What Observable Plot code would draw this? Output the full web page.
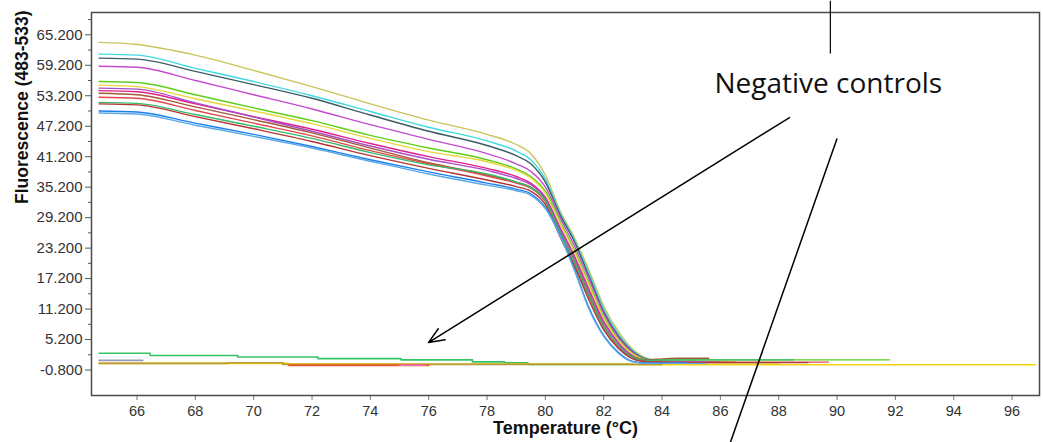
<!DOCTYPE html>
<html><head><meta charset="utf-8">
<script src="https://cdn.jsdelivr.net/npm/d3@7"></script>
<script src="https://cdn.jsdelivr.net/npm/@observablehq/plot@0.6"></script>
<style>html,body{margin:0;padding:0;background:#fff;} #chart svg{display:block;}</style>
</head><body><div id="chart"></div>
<script>
// Temperatures (°C) at which the melt curves are sampled
const temps = [64.7, 66, 68, 70, 72, 74, 76, 78, 79, 79.5, 80, 80.5, 81, 81.5, 82, 82.5, 83, 83.5, 84];

// Positive samples (fluorescence 483-533)
const sampleNames  = ["S1","S2","S3","S4","S5","S6","S7","S8","S9","S10","S11","S12","S13","S14"];
const sampleColors = ["#c9c45a","#3fd9e3","#3d5c66","#c44ad0","#5ccf1a","#e6d83a","#e0208c","#a84ccc","#a35a36","#e04a4a","#36ba6c","#b53434","#1c7ff0","#5aa9e2"];
const s1  = [63.7,63.3,61.2,58.2,55.0,51.6,48.4,45.6,43.6,41.8,37.6,30.6,25.2,18.8,11.8,6.8,3.3,1.5,1.0];
const s2  = [61.4,61.2,58.6,56.0,53.2,50.1,47.0,44.3,42.3,40.6,36.8,30.2,24.8,18.2,11.2,6.3,3.0,1.4,1.1];
const s3  = [60.6,60.4,58.0,55.4,52.7,49.4,46.2,43.4,41.4,39.8,36.2,29.8,24.4,17.6,10.7,5.9,2.8,1.3,1.0];
const s4  = [59.0,58.8,56.2,53.4,50.6,47.5,44.6,41.8,39.8,38.3,35.2,29.2,23.6,17.0,10.3,5.6,2.6,1.2,0.9];
const s5  = [56.0,55.8,53.4,50.8,48.3,45.4,42.9,40.6,38.8,37.3,34.4,28.5,22.8,16.2,9.7,5.2,2.4,1.2,1.2];
const s6  = [55.3,55.0,52.6,50.2,47.7,44.8,42.2,40.2,38.5,37.0,34.0,28.1,22.4,15.8,9.4,5.0,2.3,1.1,0.8];
const s7  = [54.2,54.0,51.6,49.1,46.6,43.8,41.2,38.9,37.3,36.0,33.2,27.3,21.6,15.0,8.8,4.6,2.0,1.0,0.7];
const s8  = [54.7,54.5,51.8,49.0,46.2,43.3,40.7,38.5,36.9,35.7,33.0,27.0,21.2,14.6,8.5,4.4,1.9,0.9,0.8];
const s9  = [53.7,53.4,51.0,48.5,45.9,42.9,40.0,37.6,36.2,35.2,32.6,26.5,20.6,14.0,8.0,4.0,1.8,1.2,1.4];
const s10 = [52.9,52.7,50.3,47.8,45.3,42.4,39.8,37.4,36.0,35.0,32.4,26.1,20.2,13.5,7.6,3.8,1.6,0.9,0.8];
const s11 = [51.9,51.7,49.5,47.2,44.8,42.0,39.6,37.8,36.2,35.1,32.6,26.3,20.4,13.7,7.7,3.9,1.7,1.1,1.2];
const s12 = [51.6,51.4,49.1,46.7,44.2,41.4,38.9,36.6,35.3,34.4,31.8,25.5,19.6,12.9,7.1,3.5,1.4,0.8,0.7];
const s13 = [50.2,50.0,47.8,45.6,43.2,40.6,38.2,36.0,34.8,33.9,31.2,25.9,19.0,11.4,6.0,2.7,0.9,0.6,0.6];
const s14 = [49.8,49.6,47.4,45.2,42.9,40.3,37.8,35.6,34.5,33.6,31.0,25.7,18.8,11.1,5.8,2.5,0.8,0.5,0.5];
const sampleValues = [s1,s2,s3,s4,s5,s6,s7,s8,s9,s10,s11,s12,s13,s14];
// Flat tail after the melt: level and last temperature
const tailLevels = [0.9,1.0,0.9,0.8,1.2,0.4,0.7,0.8,1.5,0.75,1.2,0.65,0.6,0.5];
const tailEnds   = [86.5,85.2,84.6,85.5,91.8,88.0,85.0,86.0,85.6,89.7,88.5,89.0,84.8,85.5];

// Negative controls (stepped traces): [temperature, fluorescence]
const negGreen  = [[64.7,2.5],[66.45,2.05],[69.45,1.75],[72.2,1.45],[75.05,1.2],[77.5,0.8],[78.6,0.6],[79.4,0.3],[83.0,0.3]];
const negGray   = [[64.7,1.1],[66.2,1.1]];
const negYellow = [[64.7,0.5],[71.2,0.35],[83.0,0.22],[96.8,0.22]];
const negKhaki  = [[64.7,0.5],[69.1,0.62],[71.0,0.3],[84.0,0.3]];
const negOrange = [[71.2,0.12],[76.0,0.12]];
const negPink   = [[75.0,0.14],[75.9,0.14]];
const negNames  = ["N1","N2","N3","N4","N5","N6"];
const negColors = ["#34c464","#9a98b8","#f2d40a","#b89a3c","#f05424","#f070b0"];
const negSeries = [negGreen,negGray,negYellow,negKhaki,negOrange,negPink];

// Axis ticks
const xTicks = [66,68,70,72,74,76,78,80,82,84,86,88,90,92,94,96];
const yTicks = [-0.8,5.2,11.2,17.2,23.2,29.2,35.2,41.2,47.2,53.2,59.2,65.2];
const yMinor = [2.2,8.2,14.2,20.2,26.2,32.2,38.2,44.2,50.2,56.2,62.2,68.2];

// Annotation (data units)
const noteText = "Negative controls";
const notePos = [[89.7,55.5]];
const noteTick = [[89.77,71.9,89.77,61.5]];
const noteArrow = [[88.37,48.9,75.99,4.6]];
const noteLine = [[90.0,44.8,86.34,-15.1]];

// Build tables
const posRows = [];
sampleValues.forEach((vals, i) => {
  vals.forEach((v, j) => posRows.push({id: sampleNames[i], t: temps[j], v}));
  posRows.push({id: sampleNames[i], t: 84.5, v: tailLevels[i]});
  posRows.push({id: sampleNames[i], t: tailEnds[i], v: tailLevels[i]});
});
const negRows = [];
negSeries.forEach((pts, i) => pts.forEach(([t, v]) => negRows.push({id: negNames[i], t, v})));

const colorDomain = [...sampleNames, ...negNames];
const colorRange = [...sampleColors, ...negColors];

const chart = Plot.plot({
  width: 1043,
  height: 442,
  marginLeft: 91,
  marginRight: 4,
  marginTop: 12,
  marginBottom: 47,
  style: {fontFamily: "'Liberation Sans', Arial, sans-serif", background: "#fff"},
  x: {domain: [64.44, 96.94]},
  y: {domain: [-5.82, 69.59]},
  color: {domain: colorDomain, range: colorRange},
  marks: [
    Plot.axisY(yMinor, {tickSize: 3, tickFormat: () => "", label: null, stroke: "#555"}),
    Plot.axisY(yTicks, {tickSize: 6, tickPadding: 3, tickFormat: d => d.toFixed(3), fontSize: 15, fill: "#333", stroke: "#555", label: null}),
    Plot.axisX(xTicks, {tickSize: 5, tickPadding: 5, fontSize: 14.5, fill: "#333", stroke: "#777", label: null}),
    Plot.line(negRows, {x: "t", y: "v", z: "id", stroke: "id", curve: "step-after", strokeWidth: 1.6}),
    Plot.line(posRows, {x: "t", y: "v", z: "id", stroke: "id", curve: "monotone-x", strokeWidth: 1.4}),
    Plot.frame({stroke: "#4a4a4a", strokeWidth: 1.5}),
    Plot.link(noteTick, {x1: d => d[0], y1: d => d[1], x2: d => d[2], y2: d => d[3], stroke: "#000", strokeWidth: 1.2}),
    Plot.arrow(noteArrow, {x1: d => d[0], y1: d => d[1], x2: d => d[2], y2: d => d[3], stroke: "#000", strokeWidth: 1.5, headLength: 17, headAngle: 45, bend: 0}),
    Plot.link(noteLine, {x1: d => d[0], y1: d => d[1], x2: d => d[2], y2: d => d[3], stroke: "#000", strokeWidth: 1.5}),
    Plot.text(notePos, {x: d => d[0], y: d => d[1], text: () => noteText, fontSize: 28, fontFamily: "'Open Sans', sans-serif", fill: "#111", textAnchor: "middle"}),
    Plot.text(["Temperature (°C)"], {frameAnchor: "bottom", dy: 38.5, fontSize: 18, fontWeight: "bold", fill: "#111"}),
    Plot.text(["Fluorescence (483-533)"], {frameAnchor: "left", dx: -69, rotate: -90, fontSize: 17.5, fontWeight: "bold", fill: "#111"})
  ]
});
document.getElementById("chart").appendChild(chart);
</script></body></html>
